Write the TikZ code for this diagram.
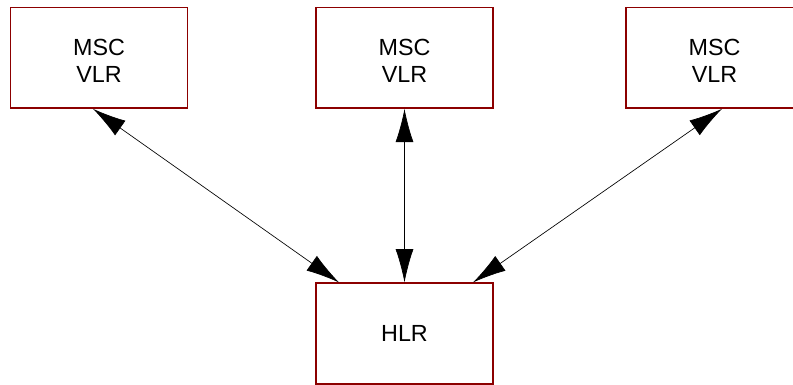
\documentclass[tikz,border=0pt]{standalone}
\usepackage{fontspec}
\setmainfont{Liberation Sans}
\usetikzlibrary{arrows.meta,calc,positioning}
\tikzset{
	>={Latex[length=25pt,width=13.5pt]},
	unit/.style = {
			draw            = red!55!black,
			line width      = 1.2pt,
			fill            = white,
			rectangle,
			align           = center,
			minimum width   = 132.75pt,
			minimum height  = 75.4pt,
			font            = \fontsize{17.5}{20.5}\selectfont,
		},
	twoline/.style = {text height=37.5pt, text depth=0pt},
	link/.style = {<->, line width=0.5pt},
}
\begin{document}
\begin{tikzpicture}[x=0.75pt,y=-0.75pt]
	\useasboundingbox (0,0) rectangle (793,385);

	% Visitor registers on top
	\node[unit,twoline] (vlrA) at (99,57.75) {MSC\\VLR};
	\node[unit,twoline] (vlrB) at (404.5,57.75) {MSC\\VLR};
	\node[unit,twoline] (vlrC) at (714.5,57.75) {MSC\\VLR};

	% Home register below
	\node[unit] (hlr) at (404.5,333.5) {HLR};

	% Links
	\draw[link] ($(vlrA.south)+(-6,0)$) -- ($(hlr.north)+(-65.5,0)$);
	\draw[link] (vlrB.south) -- (hlr.north);
	\draw[link] ($(vlrC.south)+(7.5,0)$) -- ($(hlr.north)+(68.5,0)$);
\end{tikzpicture}
\end{document}
